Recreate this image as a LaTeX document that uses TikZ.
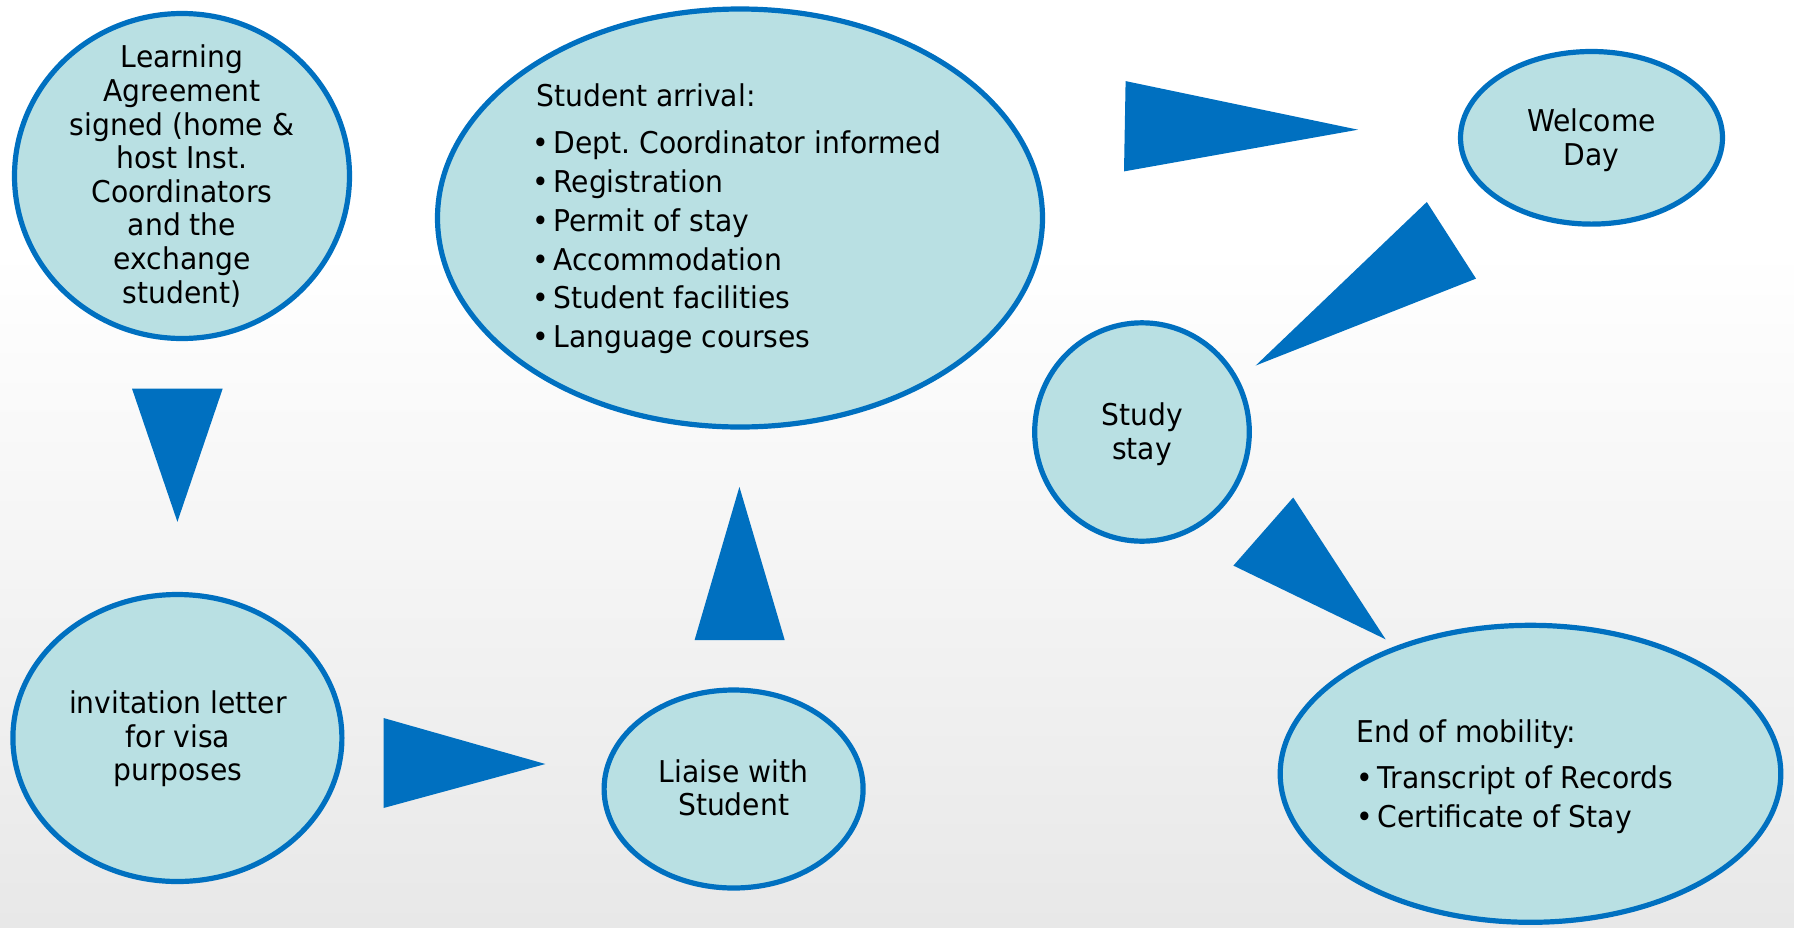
\documentclass[tikz,border=0pt]{standalone}
\usepackage{fontspec}
\setmainfont{DejaVu Sans}[FakeStretch=0.94]
\usetikzlibrary{shapes.geometric}
\definecolor{bubblefill}{RGB}{185,224,227}
\definecolor{bubbleline}{RGB}{0,112,192}
\definecolor{bgbottom}{RGB}{232,232,232}
\newcommand\bul{\makebox[10.5pt][l]{\textbullet}}
\frenchspacing

\begin{document}
\begin{tikzpicture}[x=0.5pt,y=-0.5pt,
  bubble/.style={ellipse,draw=bubbleline,fill=bubblefill,line width=2.6pt,inner sep=0pt},
  txt/.style={align=center,inner sep=0pt,font=\fontsize{15}{16.8}\selectfont},
  list/.style={align=left,inner sep=0pt,anchor=west,font=\fontsize{15}{19.4}\selectfont},
  tri/.style={fill=bubbleline}]
\useasboundingbox (0,0) rectangle (1794,927);
\fill[white] (0,0) rectangle (1794,927);
\shade[top color=white,bottom color=bgbottom] (0,250) rectangle (1794,927);

% bubbles
\node[bubble,minimum width=167.5pt,minimum height=162.5pt] (learn) at (182,176) {};
\node[bubble,minimum width=302.5pt,minimum height=209pt] (arrive) at (740,218) {};
\node[bubble,minimum width=131pt,minimum height=86.3pt] (welcome) at (1591.5,137.8) {};
\node[bubble,minimum width=107.3pt,minimum height=109.2pt] (study) at (1142,432) {};
\node[bubble,minimum width=164.5pt,minimum height=143.5pt] (invite) at (177.4,738) {};
\node[bubble,minimum width=129.5pt,minimum height=99pt] (liaise) at (733.6,789) {};
\node[bubble,minimum width=250.3pt,minimum height=148.5pt] (endmob) at (1530.5,773.8) {};

% texts
\node[txt] (learnt) at (182,176) {Learning\\Agreement\\signed (home \&\\host Inst.\\Coordinators\\and the\\exchange\\student)};
\node[list] (arrivet) at (532,219) {\hspace*{2pt}Student arrival:\\[4.1pt]
  \bul Dept. Coordinator informed\\ \bul Registration\\ \bul Permit of stay\\
  \bul Accommodation\\ \bul Student facilities\\ \bul Language courses};
\node[txt] (welcomet) at (1591.5,140) {Welcome\\Day};
\node[txt] (studyt) at (1142,434) {Study\\stay};
\node[txt] (invitet) at (178,739) {invitation letter\\for visa\\purposes};
\node[txt] (liaiset) at (733.6,788) {Liaise with\\Student};
\node[list] (endmobt) at (1356,776.6) {End of mobility:\\[3.4pt]
  \bul Transcript of Records\\ \bul Certificate of Stay};

% arrows
\fill[tri] (132,388.6) -- (222.7,388.6) -- (177.4,521.8) -- cycle;
\fill[tri] (383.5,718) -- (383.5,808) -- (545.4,764) -- cycle;
\fill[tri] (694.6,640) -- (784.7,640) -- (739.4,486.9) -- cycle;
\fill[tri] (1125.6,81.1) -- (1124,171.4) -- (1358,129.7) -- cycle;
\fill[tri] (1426.8,202) -- (1476,278.6) -- (1255.7,365.5) -- cycle;
\fill[tri] (1293.2,497.5) -- (1233.4,565.6) -- (1385.6,639.3) -- cycle;
\end{tikzpicture}
\end{document}
